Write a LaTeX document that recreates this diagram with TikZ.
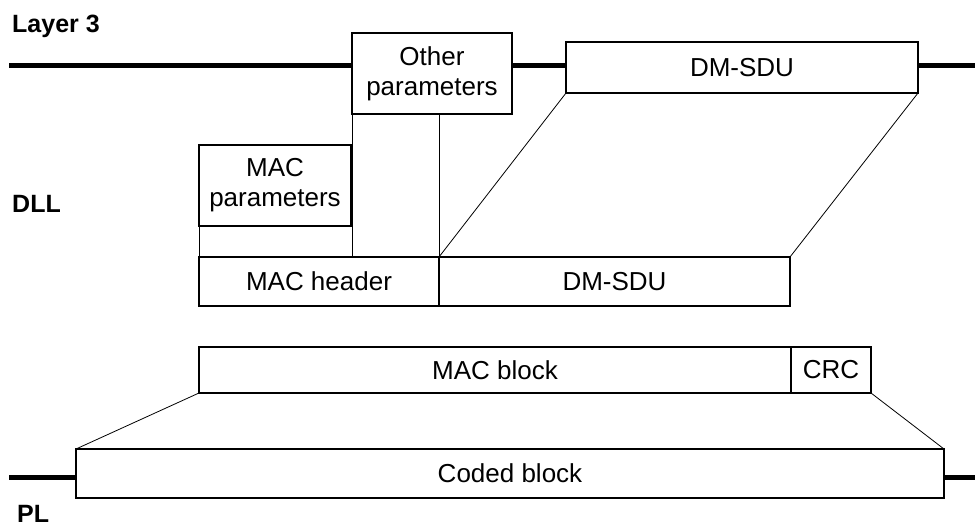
\documentclass[tikz,border=0pt]{standalone}
\usepackage{fontspec}
\setmainfont{Liberation Sans}
\usepackage{tikz}
\usetikzlibrary{positioning}
\tikzstyle{pdu} = [rectangle, draw=black, line width=2pt, inner sep=0pt, outer sep=0pt, minimum height=49pt, align=center, font=\fontsize{26}{30}\selectfont]
\tikzstyle{layer} = [anchor=base west, inner sep=0pt, font=\fontsize{25}{30}\selectfont\bfseries]
\tikzstyle{link} = [line width=0.8pt]
\tikzstyle{bus} = [line width=5pt]

\begin{document}
\begin{tikzpicture}[x=1pt, y=-1pt]
			\useasboundingbox (0,0) rectangle (975,529);

			\node (lay3) [layer] at (12,33) {Layer 3};
			\node (dll) [layer] at (12,213) {DLL};
			\node (pl) [layer] at (17,522) {PL};

			% layer 3
			\node (otherpar) [pdu, minimum width=160pt, minimum height=81pt] at (432,73.5) {Other\\parameters};
			\node (sdutop) [pdu, minimum width=352pt, minimum height=51pt] at (742,67.5) {DM-SDU};
			\coordinate (l3w) at (9,66);
			\coordinate (l3e) at (975,66);
			\draw [bus] (l3w) -- (l3w -| otherpar.west);
			\draw [bus] (otherpar.east |- l3w) -- (l3w -| sdutop.west);
			\draw [bus] (sdutop.east |- l3w) -- (l3e);

			% DLL
			\node (macpar) [pdu, minimum width=152pt, minimum height=81pt] at (275,185.5) {MAC\\parameters};
			\node (machdr) [pdu, minimum width=240pt] at (319,281.5) {MAC header};
			\node (sdu) [pdu, minimum width=351pt, right=0pt of machdr] {DM-SDU};

			\draw [link] (macpar.south west) -- (machdr.north west);
			\draw [link] (otherpar.south west) -- (otherpar.south west |- machdr.north);
			\draw [link] (machdr.north east |- otherpar.south) -- (machdr.north east);
			\draw [link] (sdutop.south west) -- (sdu.north west);
			\draw [link] (sdutop.south east) -- (sdu.north east);

			% PL
			\node (macblk) [pdu, minimum width=592pt, minimum height=46pt] at (495,370) {MAC block};
			\node (crc) [pdu, minimum width=80pt, minimum height=46pt, right=0pt of macblk] {CRC};
			\node (coded) [pdu, minimum width=868pt] at (510,473.5) {Coded block};
			\coordinate (plw) at (9,477);
			\coordinate (ple) at (975,477);
			\draw [bus] (plw) -- (plw -| coded.west);
			\draw [bus] (coded.east |- ple) -- (ple);

			\draw [link] (macblk.south west) -- (coded.north west);
			\draw [link] (crc.south east) -- (coded.north east);
		\end{tikzpicture}
\end{document}
